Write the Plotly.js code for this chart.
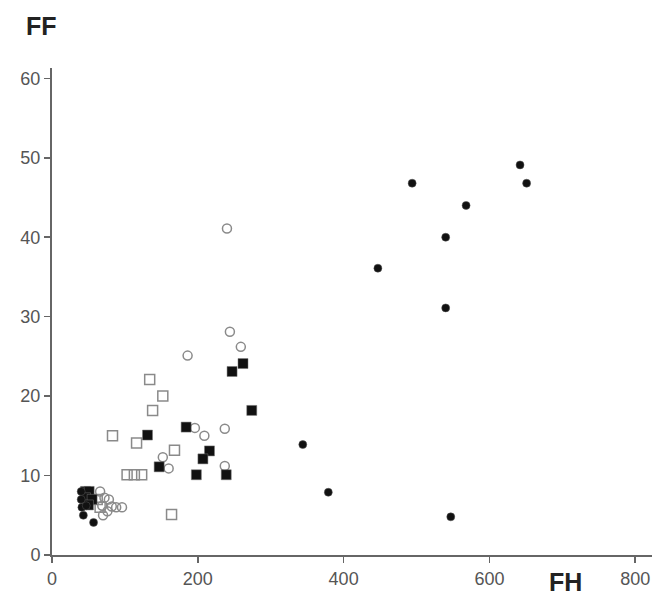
<!DOCTYPE html>
<html>
<head>
<meta charset="utf-8">
<script src="https://cdn.plot.ly/plotly-3.0.1.min.js"></script>
<style>html,body{margin:0;padding:0;background:#fff;}#chart{width:655px;height:604px;}</style>
</head>
<body>
<div id="chart"></div>
<script>
// Filled dots
var dotsX = [642, 651, 494, 568, 540, 447, 540, 344, 379, 547, 40, 40, 41, 43, 57, 47];
var dotsY = [49.1, 46.8, 46.8, 44, 40, 36.1, 31.1, 13.9, 7.9, 4.8, 8, 7, 6, 5, 4.1, 6.2];
// Open circles
var circX = [240, 244, 259, 186, 196, 209, 237, 152, 160, 237, 66, 72, 69, 76, 82, 88, 96, 70, 78];
var circY = [41.1, 28.1, 26.2, 25.1, 16, 15, 15.9, 12.3, 10.9, 11.2, 8, 7.2, 6.2, 5.5, 6.1, 6, 6, 5, 7];
// Open squares
var sqOX = [134, 152, 138, 116, 168, 103, 113, 123, 83, 164, 62, 66];
var sqOY = [22.1, 20, 18.2, 14.1, 13.2, 10.1, 10.1, 10.1, 15, 5.1, 7, 6];
// Filled squares
var sqFX = [262, 247, 274, 184, 131, 216, 207, 147, 198, 239, 46, 51, 46, 55, 50];
var sqFY = [24.1, 23.1, 18.2, 16.1, 15.1, 13.1, 12.1, 11.1, 10.1, 10.1, 8, 8, 7.2, 7, 6.3];

var xTicks = [0, 200, 400, 600, 800];
var yTicks = [0, 10, 20, 30, 40, 50, 60];

var traces = [
  {x: circX, y: circY, mode: 'markers', type: 'scatter',
   marker: {symbol: 'circle-open', size: 9, color: '#8a8a8a', line: {width: 1.5, color: '#8a8a8a'}}},
  {x: sqOX, y: sqOY, mode: 'markers', type: 'scatter',
   marker: {symbol: 'square-open', size: 10, color: '#8a8a8a', line: {width: 1.5, color: '#8a8a8a'}}},
  {x: sqFX, y: sqFY, mode: 'markers', type: 'scatter',
   marker: {symbol: 'square', size: 10, color: '#111', line: {width: 0.5, color: '#777'}}},
  {x: dotsX, y: dotsY, mode: 'markers', type: 'scatter',
   marker: {symbol: 'circle', size: 8, color: '#111', line: {width: 0.5, color: '#555'}}}
];

var layout = {
  width: 655, height: 604,
  margin: {l: 52, r: 3, t: 68, b: 49},
  paper_bgcolor: '#fff', plot_bgcolor: '#fff',
  showlegend: false,
  font: {family: 'Liberation Sans, Arial, sans-serif', color: '#555', size: 18},
  xaxis: {
    range: [0, 823], tickvals: xTicks, ticktext: xTicks.map(String),
    showgrid: false, zeroline: false, showline: true, linecolor: '#666', linewidth: 2,
    ticks: 'outside', ticklen: 6, tickcolor: '#666', tickwidth: 1.5,
    tickfont: {size: 18, color: '#555'}
  },
  yaxis: {
    range: [0, 61.3], tickvals: yTicks, ticktext: yTicks.map(String),
    showgrid: false, zeroline: false, showline: true, linecolor: '#666', linewidth: 2,
    ticks: 'outside', ticklen: 6, tickcolor: '#666', tickwidth: 1.5,
    tickfont: {size: 18, color: '#555'}
  },
  annotations: [
    {text: '<b>FF</b>', xref: 'paper', yref: 'paper', x: -0.018, y: 1.086, xanchor: 'center', yanchor: 'middle',
     showarrow: false, font: {size: 25, color: '#222', family: 'Liberation Sans, Arial, sans-serif'}},
    {text: '<b>FH</b>', xref: 'paper', yref: 'paper', x: 0.855, y: -0.055, xanchor: 'center', yanchor: 'middle',
     showarrow: false, font: {size: 25, color: '#222', family: 'Liberation Sans, Arial, sans-serif'}}
  ]
};

Plotly.newPlot('chart', traces, layout, {displayModeBar: false, staticPlot: true});
</script>
</body>
</html>
